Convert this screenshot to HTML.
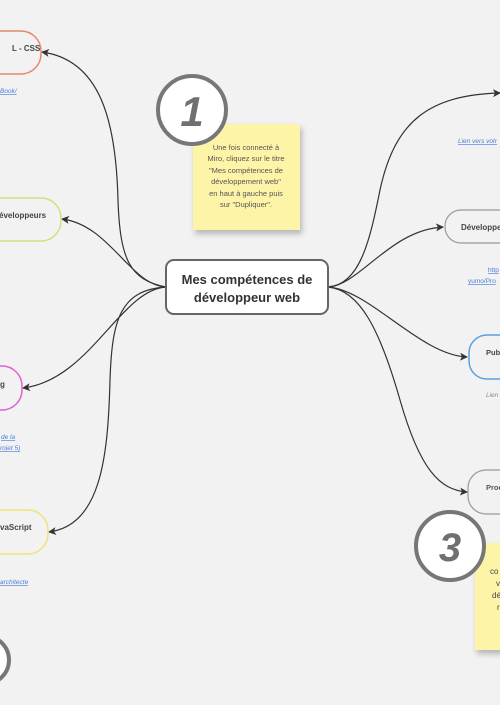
<!DOCTYPE html>
<html><head><meta charset="utf-8"><style>
body{margin:0;width:500px;height:700px;overflow:hidden;background:#f2f2f2;font-family:"Liberation Sans",sans-serif}
</style></head><body>
<svg width="500" height="700" viewBox="0 0 500 700" xmlns="http://www.w3.org/2000/svg" font-family="Liberation Sans, sans-serif">
<defs><marker id="a" markerWidth="8" markerHeight="8" refX="7" refY="4" orient="auto" markerUnits="userSpaceOnUse"><path d="M0,0 L8,4 L0,8 L2,4 z" fill="#333"/></marker>
<filter id="sh" x="-20%" y="-20%" width="150%" height="150%"><feDropShadow dx="2" dy="4" stdDeviation="3" flood-opacity="0.25"/></filter></defs>
<g fill="none" stroke="#333" stroke-width="1.2">
<path d="M166,287 C130,280 120,260 118,200 C116,120 100,60 42,52" marker-end="url(#a)"/>
<path d="M166,287 C130,285 110,225 62,219" marker-end="url(#a)"/>
<path d="M166,287 C120,290 90,380 23,388" marker-end="url(#a)"/>
<path d="M166,287 C120,290 112,320 110,380 C108,460 100,525 49,532" marker-end="url(#a)"/>
<path d="M328,287 C360,285 370,240 380,190 C395,120 430,95 500,93" marker-end="url(#a)"/>
<path d="M328,287 C360,285 390,230 443,227" marker-end="url(#a)"/>
<path d="M328,287 C370,290 420,355 467,357" marker-end="url(#a)"/>
<path d="M328,287 C360,290 380,330 400,400 C420,470 440,490 467,492" marker-end="url(#a)"/>
</g>
<rect x="-40" y="31" width="81" height="43" rx="20" fill="none" stroke="#e8866c" stroke-width="1.5"/>
<text x="12" y="51" font-size="8" font-weight="bold" fill="#444">L - CSS</text>
<text x="0" y="93" font-size="6.5" font-style="italic" fill="#4a7fd8" text-decoration="underline">Book/</text>
<rect x="-40" y="198" width="101" height="43" rx="20" fill="none" stroke="#cde27a" stroke-width="1.5"/>
<text x="-1" y="218" font-size="8" font-weight="bold" fill="#444">éveloppeurs</text>
<rect x="-40" y="366" width="62" height="44" rx="20" fill="none" stroke="#e060d0" stroke-width="1.5"/>
<text x="0" y="387" font-size="8" font-weight="bold" fill="#444">g</text>
<text x="1" y="439" font-size="6.5" font-style="italic" fill="#4a7fd8" text-decoration="underline">de la</text>
<text x="0" y="450" font-size="6.5" font-style="italic" fill="#4a7fd8" text-decoration="underline">rojet 5)</text>
<rect x="-40" y="510" width="88" height="44" rx="20" fill="none" stroke="#f0e27a" stroke-width="1.5"/>
<text x="0" y="530" font-size="8" font-weight="bold" fill="#444">vaScript</text>
<text x="0" y="584" font-size="6.5" font-style="italic" fill="#4a7fd8" text-decoration="underline">architecte</text>
<circle cx="-15" cy="660" r="24" fill="#fff" stroke="#777" stroke-width="4"/>
<rect x="445" y="210" width="80" height="33" rx="16" fill="none" stroke="#999" stroke-width="1.2"/>
<text x="461" y="230" font-size="8" font-weight="bold" fill="#444">Développe</text>
<text x="458" y="143" font-size="6.5" font-style="italic" fill="#4a7fd8" text-decoration="underline">Lien vers votr</text>
<text x="488" y="272" font-size="6.5" fill="#4a7fd8" text-decoration="underline">http</text>
<text x="468" y="283" font-size="6.5" fill="#4a7fd8" text-decoration="underline">yumo/Pro</text>
<rect x="469" y="335" width="60" height="44" rx="18" fill="none" stroke="#5aa0e0" stroke-width="1.5"/>
<text x="486" y="355" font-size="7.5" font-weight="bold" fill="#444">Pub</text>
<text x="486" y="397" font-size="6.5" font-style="italic" fill="#888">Lien</text>
<rect x="468" y="470" width="60" height="44" rx="18" fill="none" stroke="#999" stroke-width="1.2"/>
<text x="486" y="490" font-size="7.5" font-weight="bold" fill="#555">Proc</text>
<rect x="193" y="124" width="107" height="106" fill="#fdf4a8" filter="url(#sh)"/>
<g font-size="7.5" fill="#555" text-anchor="middle">
<text x="246" y="150">Une fois connecté à</text>
<text x="246" y="161">Miro, cliquez sur le titre</text>
<text x="246" y="173">"Mes compétences de</text>
<text x="246" y="184">développement web"</text>
<text x="246" y="196">en haut à gauche puis</text>
<text x="246" y="207">sur "Dupliquer".</text>
</g>
<circle cx="192" cy="110" r="34" fill="#fff" stroke="#777" stroke-width="4"/>
<text x="192" y="126" font-size="42" font-weight="bold" font-style="italic" fill="#707070" text-anchor="middle">1</text>
<rect x="475" y="543" width="40" height="107" fill="#fdf4a8" filter="url(#sh)"/>
<g font-size="8" fill="#444">
<text x="490" y="574">co</text><text x="496" y="586">v</text><text x="492" y="598">dé</text><text x="497" y="610">r</text>
</g>
<circle cx="450" cy="546" r="34" fill="#fff" stroke="#777" stroke-width="4"/>
<text x="450" y="561" font-size="40" font-weight="bold" font-style="italic" fill="#707070" text-anchor="middle">3</text>
<rect x="166" y="260" width="162" height="54" rx="8" fill="#fff" stroke="#666" stroke-width="2"/>
<text x="247" y="284" font-size="13" font-weight="bold" fill="#333" text-anchor="middle">Mes compétences de</text>
<text x="247" y="302" font-size="13" font-weight="bold" fill="#333" text-anchor="middle">développeur web</text>
</svg>
</body></html>
